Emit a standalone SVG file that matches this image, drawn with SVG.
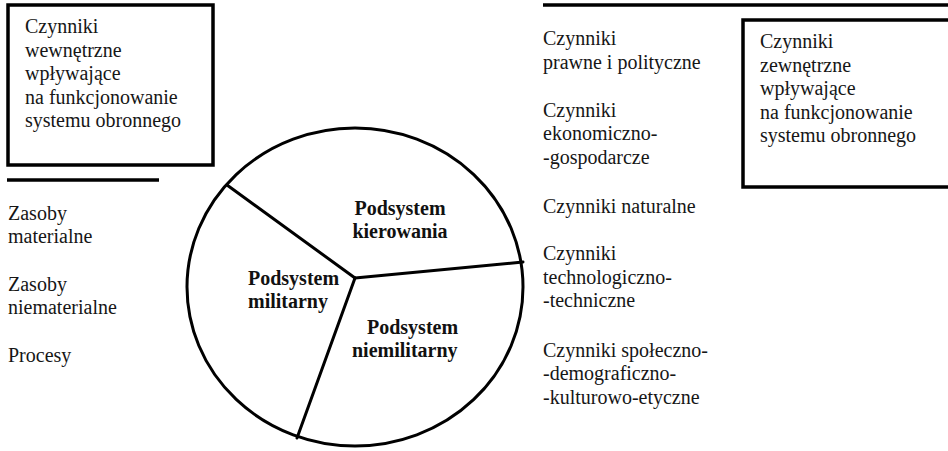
<svg xmlns="http://www.w3.org/2000/svg" width="948" height="451" viewBox="0 0 948 451">
  <style>
    .t { font-family: "Liberation Serif", "Times New Roman", serif; font-size: 20px; fill: #161616; }
    .b { font-family: "Liberation Serif", "Times New Roman", serif; font-size: 20px; font-weight: bold; fill: #111; }
    .frame { fill: none; stroke: #000; stroke-width: 3.5; }
    .rule { stroke: #000; stroke-width: 3.5; }
    .edge { stroke: #000; stroke-width: 3; fill: none; stroke-linecap: round; }
  </style>
  <rect width="948" height="451" fill="#fff"/>

  <!-- internal factors box -->
  <g id="internal-box">
    <rect class="frame" x="8" y="5" width="205" height="160"/>
    <text class="t">
      <tspan x="25" y="33">Czynniki</tspan>
      <tspan x="25" y="57">wewnętrzne</tspan>
      <tspan x="25" y="80">wpływające</tspan>
      <tspan x="25" y="104">na funkcjonowanie</tspan>
      <tspan x="25" y="127">systemu obronnego</tspan>
    </text>
  </g>

  <!-- resources list -->
  <g id="resources">
    <line class="rule" x1="7" y1="180" x2="159" y2="180"/>
    <text class="t">
      <tspan x="8" y="220">Zasoby</tspan>
      <tspan x="8" y="243">materialne</tspan>
      <tspan x="8" y="291">Zasoby</tspan>
      <tspan x="8" y="314">niematerialne</tspan>
      <tspan x="8" y="362">Procesy</tspan>
    </text>
  </g>

  <!-- defence system split into three subsystems -->
  <g id="system">
    <ellipse class="edge" cx="355" cy="287" rx="168" ry="159"/>
    <g id="connectors">
      <line class="edge" x1="355" y1="278" x2="227" y2="185"/>
      <line class="edge" x1="355" y1="278" x2="523" y2="262"/>
      <line class="edge" x1="355" y1="278" x2="297" y2="438"/>
    </g>
    <g id="sub-kierowania">
      <text class="b" text-anchor="middle"><tspan x="400" y="215">Podsystem</tspan><tspan x="400" y="238">kierowania</tspan></text>
    </g>
    <g id="sub-militarny">
      <text class="b"><tspan x="248" y="285">Podsystem</tspan><tspan x="248" y="308">militarny</tspan></text>
    </g>
    <g id="sub-niemilitarny">
      <text class="b"><tspan x="367" y="334">Podsystem</tspan><tspan x="352" y="357">niemilitarny</tspan></text>
    </g>
  </g>

  <!-- external factors list -->
  <g id="factors">
    <line class="rule" x1="543" y1="5" x2="948" y2="5"/>
    <text class="t">
      <tspan x="543" y="45">Czynniki</tspan>
      <tspan x="543" y="69">prawne i polityczne</tspan>
      <tspan x="543" y="117">Czynniki</tspan>
      <tspan x="543" y="140">ekonomiczno-</tspan>
      <tspan x="543" y="164">-gospodarcze</tspan>
      <tspan x="543" y="213">Czynniki naturalne</tspan>
      <tspan x="543" y="260">Czynniki</tspan>
      <tspan x="543" y="284">technologiczno-</tspan>
      <tspan x="543" y="307">-techniczne</tspan>
      <tspan x="543" y="357">Czynniki społeczno-</tspan>
      <tspan x="543" y="380">-demograficzno-</tspan>
      <tspan x="543" y="404">-kulturowo-etyczne</tspan>
    </text>
  </g>

  <!-- external factors box -->
  <g id="external-box">
    <rect class="frame" x="743" y="20" width="210" height="167"/>
    <text class="t">
      <tspan x="760" y="48">Czynniki</tspan>
      <tspan x="760" y="72">zewnętrzne</tspan>
      <tspan x="760" y="95">wpływające</tspan>
      <tspan x="760" y="119">na funkcjonowanie</tspan>
      <tspan x="760" y="142">systemu obronnego</tspan>
    </text>
  </g>
</svg>
